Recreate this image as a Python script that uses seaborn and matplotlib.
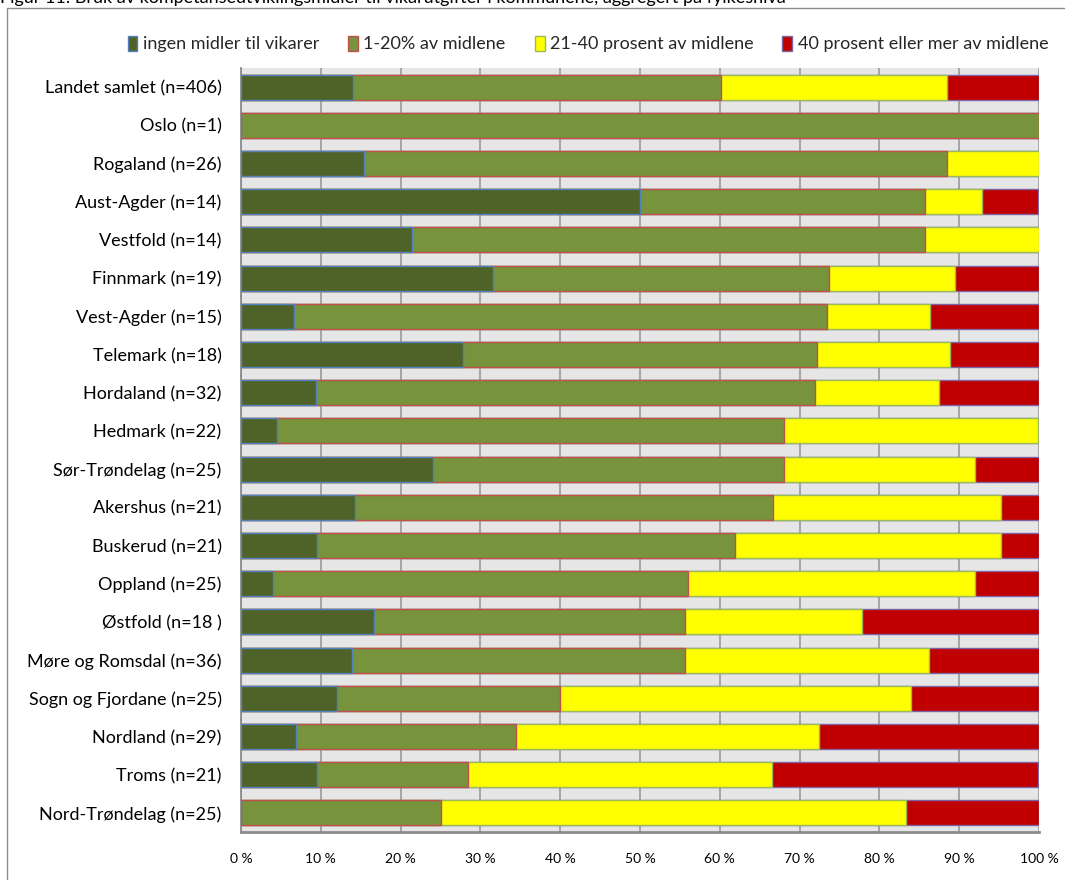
import matplotlib
matplotlib.use("Agg")
import matplotlib.pyplot as plt
from matplotlib.patches import Patch, Rectangle
import seaborn as sns
import numpy as np

categories = [
    "Landet samlet (n=406)", "Oslo (n=1)", "Rogaland (n=26)", "Aust-Agder (n=14)",
    "Vestfold (n=14)", "Finnmark (n=19)", "Vest-Agder (n=15)", "Telemark (n=18)",
    "Hordaland (n=32)", "Hedmark (n=22)", "Sør-Trøndelag (n=25)", "Akershus (n=21)",
    "Buskerud (n=21)", "Oppland (n=25)", "Østfold (n=18 )", "Møre og Romsdal (n=36)",
    "Sogn og Fjordane (n=25)", "Nordland (n=29)", "Troms (n=21)", "Nord-Trøndelag (n=25)",
]
ingen = [14.0, 0.0, 15.4, 50.0, 21.4, 31.6, 6.7, 27.8, 9.4, 4.5, 24.0, 14.3, 9.5, 4.0, 16.7, 13.9, 12.0, 6.9, 9.5, 0.0]
p1_20 = [46.2, 100.0, 73.1, 35.7, 64.3, 42.1, 66.7, 44.4, 62.5, 63.6, 44.0, 52.4, 52.4, 52.0, 38.9, 41.7, 28.0, 27.6, 19.0, 25.0]
p21_40 = [28.3, 0.0, 11.5, 7.1, 14.3, 15.8, 13.0, 16.7, 15.6, 31.8, 24.0, 28.6, 33.3, 36.0, 22.2, 30.6, 44.0, 37.9, 38.1, 58.3]
p40 = [11.5, 0.0, 0.0, 7.1, 0.0, 10.5, 13.6, 11.1, 12.5, 0.0, 8.0, 4.8, 4.8, 8.0, 22.2, 13.9, 16.0, 27.6, 33.3, 16.7]
series_names = ["ingen midler til vikarer", "1-20% av midlene",
                "21-40 prosent av midlene", "40 prosent eller mer av midlene"]
tick_labels = ["0 %", "10 %", "20 %", "30 %", "40 %", "50 %", "60 %", "70 %", "80 %", "90 %", "100 %"]

fills = ["#4F6228", "#77933C", "#FFFF00", "#C00000"]
edges = ["#4F81BD", "#C0504D", "#9BBB59", "#8064A2"]

sns.set_style("white")
plt.rcParams["font.family"] = ["Lato", "DejaVu Sans"]

fig = plt.figure(figsize=(10.65, 8.8), dpi=100)
ax = fig.add_axes([241/1065, 1-832/880, (1039-241)/1065, (832-68)/880])
ax.set_facecolor("#E6E6E6")

vals = np.array([ingen, p1_20, p21_40, p40])
cums = np.cumsum(vals, axis=0)

for i in [3, 2, 1, 0]:
    sns.barplot(x=cums[i], y=categories, orient="h", color=fills[i], saturation=1,
                edgecolor=edges[i], linewidth=1.0, width=0.65, errorbar=None,
                ax=ax, zorder=3)

ax.set_xlim(0, 100)
ax.set_ylim(19.5, -0.5)
ax.set_xticks(np.arange(0, 101, 10))
ax.set_xticklabels(tick_labels)
ax.xaxis.grid(True, color="#A0A0A0", linewidth=1.3, zorder=0)
ax.yaxis.grid(False)
ax.set_axisbelow(True)
ax.set_xlabel("")
ax.set_ylabel("")
ax.tick_params(axis="y", length=0, pad=14, labelsize=13, colors="#000000")
ax.tick_params(axis="x", length=0, pad=15, labelsize=10, colors="#000000")
for s in ["top", "right"]:
    ax.spines[s].set_visible(False)
ax.spines["left"].set_color("#8C8C8C")
ax.spines["left"].set_linewidth(1.3)
ax.spines["bottom"].set_color("#8C8C8C")
ax.spines["bottom"].set_linewidth(2.0)

handles = [Patch(facecolor=fills[i], edgecolor=edges[i], linewidth=1.0, label=series_names[i])
           for i in range(4)]
fig.legend(handles=handles, loc="center", bbox_to_anchor=(588/1065, 1-44/880), ncol=4,
           frameon=False, fontsize=13, handlelength=0.55, handleheight=0.9,
           handletextpad=0.3, columnspacing=1.6)

fig.patches.append(Rectangle((7/1065, -0.05), 1.2, 1-8/880+0.05, transform=fig.transFigure,
                             fill=False, edgecolor="#8C8C8C", linewidth=1.0))
fig.text(0.0, 1-3/880, "Figur 11: Bruk av kompetanseutviklingsmidler til vikarutgifter i kommunene, aggregert på fylkesnivå",
         fontsize=13, va="baseline", ha="left", color="#000000")

fig.savefig("out.png", dpi=100)
